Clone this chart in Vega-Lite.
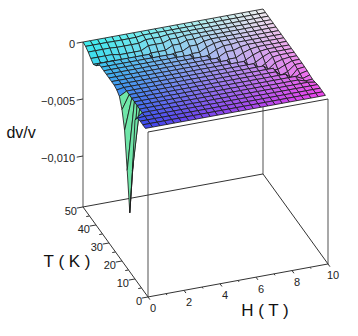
{"$schema":"https://vega.github.io/schema/vega-lite/v6.json","width":358,"height":336,"padding":0,"autosize":{"type":"fit","contains":"padding"},"background":"white","view":{"stroke":null},
"datasets":{
"edges":[{"id":"a","n":0,"H":0,"T":50,"v":0},{"id":"a","n":1,"H":0,"T":50,"v":-0.01447},{"id":"b","n":0,"H":0,"T":0,"v":0},{"id":"b","n":1,"H":0,"T":0,"v":-0.01447},{"id":"c","n":0,"H":10,"T":50,"v":0},{"id":"c","n":1,"H":10,"T":50,"v":-0.01447},{"id":"d","n":0,"H":10,"T":0,"v":0},{"id":"d","n":1,"H":10,"T":0,"v":-0.01447}],
"frame":[{"id":"f1","n":0,"H":0,"T":0,"v":-0.01447},{"id":"f1","n":1,"H":10,"T":0,"v":-0.01447},{"id":"f2","n":0,"H":0,"T":0,"v":-0.01447},{"id":"f2","n":1,"H":0,"T":50,"v":-0.01447},{"id":"f3","n":0,"H":0,"T":50,"v":-0.01447},{"id":"f3","n":1,"H":10,"T":50,"v":-0.01447},{"id":"f4","n":0,"H":10,"T":0,"v":-0.01447},{"id":"f4","n":1,"H":10,"T":50,"v":-0.01447},{"id":"f5","n":0,"H":0,"T":0,"v":0},{"id":"f5","n":1,"H":10,"T":0,"v":0},
{"id":"h0","n":0,"H":0,"T":0,"v":-0.01447},{"id":"h0","n":1,"H":0,"T":-1.5,"v":-0.01447},{"id":"h1","n":0,"H":1,"T":0,"v":-0.01447},{"id":"h1","n":1,"H":1,"T":-0.8,"v":-0.01447},{"id":"h2","n":0,"H":2,"T":0,"v":-0.01447},{"id":"h2","n":1,"H":2,"T":-1.5,"v":-0.01447},{"id":"h3","n":0,"H":3,"T":0,"v":-0.01447},{"id":"h3","n":1,"H":3,"T":-0.8,"v":-0.01447},{"id":"h4","n":0,"H":4,"T":0,"v":-0.01447},{"id":"h4","n":1,"H":4,"T":-1.5,"v":-0.01447},{"id":"h5","n":0,"H":5,"T":0,"v":-0.01447},{"id":"h5","n":1,"H":5,"T":-0.8,"v":-0.01447},{"id":"h6","n":0,"H":6,"T":0,"v":-0.01447},{"id":"h6","n":1,"H":6,"T":-1.5,"v":-0.01447},{"id":"h7","n":0,"H":7,"T":0,"v":-0.01447},{"id":"h7","n":1,"H":7,"T":-0.8,"v":-0.01447},{"id":"h8","n":0,"H":8,"T":0,"v":-0.01447},{"id":"h8","n":1,"H":8,"T":-1.5,"v":-0.01447},{"id":"h9","n":0,"H":9,"T":0,"v":-0.01447},{"id":"h9","n":1,"H":9,"T":-0.8,"v":-0.01447},{"id":"h10","n":0,"H":10,"T":0,"v":-0.01447},{"id":"h10","n":1,"H":10,"T":-1.5,"v":-0.01447},
{"id":"t0","n":0,"H":0,"T":0,"v":-0.01447},{"id":"t0","n":1,"H":-0.35,"T":0,"v":-0.01447},{"id":"t5","n":0,"H":0,"T":5,"v":-0.01447},{"id":"t5","n":1,"H":-0.18,"T":5,"v":-0.01447},{"id":"t10","n":0,"H":0,"T":10,"v":-0.01447},{"id":"t10","n":1,"H":-0.35,"T":10,"v":-0.01447},{"id":"t15","n":0,"H":0,"T":15,"v":-0.01447},{"id":"t15","n":1,"H":-0.18,"T":15,"v":-0.01447},{"id":"t20","n":0,"H":0,"T":20,"v":-0.01447},{"id":"t20","n":1,"H":-0.35,"T":20,"v":-0.01447},{"id":"t25","n":0,"H":0,"T":25,"v":-0.01447},{"id":"t25","n":1,"H":-0.18,"T":25,"v":-0.01447},{"id":"t30","n":0,"H":0,"T":30,"v":-0.01447},{"id":"t30","n":1,"H":-0.35,"T":30,"v":-0.01447},{"id":"t35","n":0,"H":0,"T":35,"v":-0.01447},{"id":"t35","n":1,"H":-0.18,"T":35,"v":-0.01447},{"id":"t40","n":0,"H":0,"T":40,"v":-0.01447},{"id":"t40","n":1,"H":-0.35,"T":40,"v":-0.01447},{"id":"t45","n":0,"H":0,"T":45,"v":-0.01447},{"id":"t45","n":1,"H":-0.18,"T":45,"v":-0.01447},{"id":"t50","n":0,"H":0,"T":50,"v":-0.01447},{"id":"t50","n":1,"H":-0.35,"T":50,"v":-0.01447},
{"id":"z0","n":0,"H":0,"T":50,"v":0},{"id":"z0","n":1,"H":-0.35,"T":50,"v":0},{"id":"z5","n":0,"H":0,"T":50,"v":-0.005},{"id":"z5","n":1,"H":-0.35,"T":50,"v":-0.005},{"id":"z10","n":0,"H":0,"T":50,"v":-0.01},{"id":"z10","n":1,"H":-0.35,"T":50,"v":-0.01}],
"zlab":[{"H":0,"T":50,"v":0,"t":"0"},{"H":0,"T":50,"v":-0.005,"t":"−0,005"},{"H":0,"T":50,"v":-0.01,"t":"−0,010"}],
"tlab":[{"H":0,"T":0,"v":-0.01447,"t":"0"},{"H":0,"T":10,"v":-0.01447,"t":"10"},{"H":0,"T":20,"v":-0.01447,"t":"20"},{"H":0,"T":30,"v":-0.01447,"t":"30"},{"H":0,"T":40,"v":-0.01447,"t":"40"},{"H":0,"T":50,"v":-0.01447,"t":"50"}],
"hlab":[{"H":0,"T":0,"v":-0.01447,"t":"0"},{"H":2,"T":0,"v":-0.01447,"t":"2"},{"H":4,"T":0,"v":-0.01447,"t":"4"},{"H":6,"T":0,"v":-0.01447,"t":"6"},{"H":8,"T":0,"v":-0.01447,"t":"8"},{"H":10,"T":0,"v":-0.01447,"t":"10"}],
"titles":[{"H":5.24,"T":-17.4,"v":-0.01447,"t":"H ( T )"},{"H":-2.73,"T":24.45,"v":-0.01447,"t":"T ( K )"}],
"ztitle":[{"H":-3.44,"T":50,"v":-0.00699,"t":"dv/v"}],
"grid":[
{"H":10,"T":50,"v":0},{"H":9.6,"T":50,"v":0},{"H":9.2,"T":50,"v":0},{"H":8.8,"T":50,"v":0},{"H":8.4,"T":50,"v":0},{"H":8,"T":50,"v":0},{"H":7.6,"T":50,"v":0},{"H":7.2,"T":50,"v":0},{"H":6.8,"T":50,"v":0},{"H":6.4,"T":50,"v":0},{"H":6,"T":50,"v":0},{"H":5.6,"T":50,"v":0},{"H":5.2,"T":50,"v":0},{"H":4.8,"T":50,"v":0},{"H":4.4,"T":50,"v":0},{"H":4,"T":50,"v":0},{"H":3.6,"T":50,"v":0},{"H":3.2,"T":50,"v":0},{"H":2.8,"T":50,"v":0},{"H":2.4,"T":50,"v":0},{"H":2,"T":50,"v":0},{"H":1.6,"T":50,"v":0},{"H":1.2,"T":50,"v":0},{"H":0.8,"T":50,"v":0},{"H":0.4,"T":50,"v":0},{"H":0,"T":50,"v":0},
{"H":10,"T":48,"v":0},{"H":9.6,"T":48,"v":0},{"H":9.2,"T":48,"v":0},{"H":8.8,"T":48,"v":0},{"H":8.4,"T":48,"v":0},{"H":8,"T":48,"v":0},{"H":7.6,"T":48,"v":0},{"H":7.2,"T":48,"v":0},{"H":6.8,"T":48,"v":0},{"H":6.4,"T":48,"v":0},{"H":6,"T":48,"v":0},{"H":5.6,"T":48,"v":0},{"H":5.2,"T":48,"v":0},{"H":4.8,"T":48,"v":0},{"H":4.4,"T":48,"v":0},{"H":4,"T":48,"v":0},{"H":3.6,"T":48,"v":0},{"H":3.2,"T":48,"v":0},{"H":2.8,"T":48,"v":-0.00009},{"H":2.4,"T":48,"v":-0.00009},{"H":2,"T":48,"v":-0.00009},{"H":1.6,"T":48,"v":-0.00009},{"H":1.2,"T":48,"v":-0.00007},{"H":0.8,"T":48,"v":-0.00007},{"H":0.4,"T":48,"v":-0.00007},{"H":0,"T":48,"v":-0.00007},
{"H":10,"T":46,"v":0},{"H":9.6,"T":46,"v":0},{"H":9.2,"T":46,"v":0},{"H":8.8,"T":46,"v":0},{"H":8.4,"T":46,"v":0},{"H":8,"T":46,"v":0},{"H":7.6,"T":46,"v":0},{"H":7.2,"T":46,"v":0},{"H":6.8,"T":46,"v":0},{"H":6.4,"T":46,"v":0},{"H":6,"T":46,"v":0},{"H":5.6,"T":46,"v":0},{"H":5.2,"T":46,"v":0},{"H":4.8,"T":46,"v":0},{"H":4.4,"T":46,"v":0},{"H":4,"T":46,"v":-0.00009},{"H":3.6,"T":46,"v":-0.00009},{"H":3.2,"T":46,"v":-0.00009},{"H":2.8,"T":46,"v":-0.0003},{"H":2.4,"T":46,"v":-0.0003},{"H":2,"T":46,"v":-0.0003},{"H":1.6,"T":46,"v":-0.0003},{"H":1.2,"T":46,"v":-0.00025},{"H":0.8,"T":46,"v":-0.00025},{"H":0.4,"T":46,"v":-0.00025},{"H":0,"T":46,"v":-0.00025},
{"H":10,"T":44,"v":0},{"H":9.6,"T":44,"v":0},{"H":9.2,"T":44,"v":0},{"H":8.8,"T":44,"v":0},{"H":8.4,"T":44,"v":0},{"H":8,"T":44,"v":0},{"H":7.6,"T":44,"v":0},{"H":7.2,"T":44,"v":0},{"H":6.8,"T":44,"v":0},{"H":6.4,"T":44,"v":0},{"H":6,"T":44,"v":0},{"H":5.6,"T":44,"v":0},{"H":5.2,"T":44,"v":0},{"H":4.8,"T":44,"v":-0.00009},{"H":4.4,"T":44,"v":-0.00009},{"H":4,"T":44,"v":-0.0003},{"H":3.6,"T":44,"v":-0.0003},{"H":3.2,"T":44,"v":-0.0003},{"H":2.8,"T":44,"v":-0.00063},{"H":2.4,"T":44,"v":-0.00063},{"H":2,"T":44,"v":-0.00063},{"H":1.6,"T":44,"v":-0.00063},{"H":1.2,"T":44,"v":-0.0005},{"H":0.8,"T":44,"v":-0.0005},{"H":0.4,"T":44,"v":-0.0005},{"H":0,"T":44,"v":-0.0005},
{"H":10,"T":42,"v":0},{"H":9.6,"T":42,"v":0},{"H":9.2,"T":42,"v":0},{"H":8.8,"T":42,"v":0},{"H":8.4,"T":42,"v":0},{"H":8,"T":42,"v":0},{"H":7.6,"T":42,"v":0},{"H":7.2,"T":42,"v":0},{"H":6.8,"T":42,"v":0},{"H":6.4,"T":42,"v":0},{"H":6,"T":42,"v":0},{"H":5.6,"T":42,"v":-0.00009},{"H":5.2,"T":42,"v":-0.00009},{"H":4.8,"T":42,"v":-0.0003},{"H":4.4,"T":42,"v":-0.0003},{"H":4,"T":42,"v":-0.00063},{"H":3.6,"T":42,"v":-0.00063},{"H":3.2,"T":42,"v":-0.00063},{"H":2.8,"T":42,"v":-0.0009},{"H":2.4,"T":42,"v":-0.0009},{"H":2,"T":42,"v":-0.0009},{"H":1.6,"T":42,"v":-0.0009},{"H":1.2,"T":42,"v":-0.0007},{"H":0.8,"T":42,"v":-0.0007},{"H":0.4,"T":42,"v":-0.0007},{"H":0,"T":42,"v":-0.0007},
{"H":10,"T":40,"v":0},{"H":9.6,"T":40,"v":0},{"H":9.2,"T":40,"v":0},{"H":8.8,"T":40,"v":0},{"H":8.4,"T":40,"v":0},{"H":8,"T":40,"v":0},{"H":7.6,"T":40,"v":0},{"H":7.2,"T":40,"v":0},{"H":6.8,"T":40,"v":0},{"H":6.4,"T":40,"v":0},{"H":6,"T":40,"v":-0.00009},{"H":5.6,"T":40,"v":-0.0003},{"H":5.2,"T":40,"v":-0.0003},{"H":4.8,"T":40,"v":-0.00063},{"H":4.4,"T":40,"v":-0.00063},{"H":4,"T":40,"v":-0.0009},{"H":3.6,"T":40,"v":-0.0009},{"H":3.2,"T":40,"v":-0.0009},{"H":2.8,"T":40,"v":-0.00063},{"H":2.4,"T":40,"v":-0.00063},{"H":2,"T":40,"v":-0.00063},{"H":1.6,"T":40,"v":-0.00063},{"H":1.2,"T":40,"v":-0.0005},{"H":0.8,"T":40,"v":-0.0005},{"H":0.4,"T":40,"v":-0.0005},{"H":0,"T":40,"v":-0.0005},
{"H":10,"T":38,"v":0},{"H":9.6,"T":38,"v":0},{"H":9.2,"T":38,"v":0},{"H":8.8,"T":38,"v":0},{"H":8.4,"T":38,"v":0},{"H":8,"T":38,"v":0},{"H":7.6,"T":38,"v":0},{"H":7.2,"T":38,"v":0},{"H":6.8,"T":38,"v":0},{"H":6.4,"T":38,"v":-0.00009},{"H":6,"T":38,"v":-0.0003},{"H":5.6,"T":38,"v":-0.00063},{"H":5.2,"T":38,"v":-0.00063},{"H":4.8,"T":38,"v":-0.0009},{"H":4.4,"T":38,"v":-0.0009},{"H":4,"T":38,"v":-0.00063},{"H":3.6,"T":38,"v":-0.00063},{"H":3.2,"T":38,"v":-0.00063},{"H":2.8,"T":38,"v":0},{"H":2.4,"T":38,"v":0},{"H":2,"T":38,"v":0},{"H":1.6,"T":38,"v":0},{"H":1.2,"T":38,"v":0},{"H":0.8,"T":38,"v":0},{"H":0.4,"T":38,"v":0},{"H":0,"T":38,"v":0},
{"H":10,"T":36,"v":0},{"H":9.6,"T":36,"v":0},{"H":9.2,"T":36,"v":0},{"H":8.8,"T":36,"v":0},{"H":8.4,"T":36,"v":0},{"H":8,"T":36,"v":0},{"H":7.6,"T":36,"v":0},{"H":7.2,"T":36,"v":-0.00009},{"H":6.8,"T":36,"v":-0.00009},{"H":6.4,"T":36,"v":-0.0003},{"H":6,"T":36,"v":-0.00063},{"H":5.6,"T":36,"v":-0.0009},{"H":5.2,"T":36,"v":-0.0009},{"H":4.8,"T":36,"v":-0.00063},{"H":4.4,"T":36,"v":-0.00063},{"H":4,"T":36,"v":0},{"H":3.6,"T":36,"v":0},{"H":3.2,"T":36,"v":0},{"H":2.8,"T":36,"v":0},{"H":2.4,"T":36,"v":0},{"H":2,"T":36,"v":0},{"H":1.6,"T":36,"v":0},{"H":1.2,"T":36,"v":0},{"H":0.8,"T":36,"v":0},{"H":0.4,"T":36,"v":0},{"H":0,"T":36,"v":0},
{"H":10,"T":34,"v":0},{"H":9.6,"T":34,"v":0},{"H":9.2,"T":34,"v":0},{"H":8.8,"T":34,"v":0},{"H":8.4,"T":34,"v":0},{"H":8,"T":34,"v":0},{"H":7.6,"T":34,"v":-0.00009},{"H":7.2,"T":34,"v":-0.0003},{"H":6.8,"T":34,"v":-0.0003},{"H":6.4,"T":34,"v":-0.00063},{"H":6,"T":34,"v":-0.0009},{"H":5.6,"T":34,"v":-0.00063},{"H":5.2,"T":34,"v":-0.00063},{"H":4.8,"T":34,"v":0},{"H":4.4,"T":34,"v":0},{"H":4,"T":34,"v":0},{"H":3.6,"T":34,"v":0},{"H":3.2,"T":34,"v":0},{"H":2.8,"T":34,"v":0},{"H":2.4,"T":34,"v":0},{"H":2,"T":34,"v":0},{"H":1.6,"T":34,"v":0},{"H":1.2,"T":34,"v":0},{"H":0.8,"T":34,"v":0},{"H":0.4,"T":34,"v":0},{"H":0,"T":34,"v":0},
{"H":10,"T":32,"v":0},{"H":9.6,"T":32,"v":0},{"H":9.2,"T":32,"v":0},{"H":8.8,"T":32,"v":0},{"H":8.4,"T":32,"v":0},{"H":8,"T":32,"v":-0.00009},{"H":7.6,"T":32,"v":-0.0003},{"H":7.2,"T":32,"v":-0.00063},{"H":6.8,"T":32,"v":-0.00063},{"H":6.4,"T":32,"v":-0.0009},{"H":6,"T":32,"v":-0.00063},{"H":5.6,"T":32,"v":0},{"H":5.2,"T":32,"v":0},{"H":4.8,"T":32,"v":0},{"H":4.4,"T":32,"v":0},{"H":4,"T":32,"v":0},{"H":3.6,"T":32,"v":0},{"H":3.2,"T":32,"v":0},{"H":2.8,"T":32,"v":0},{"H":2.4,"T":32,"v":0},{"H":2,"T":32,"v":0},{"H":1.6,"T":32,"v":0},{"H":1.2,"T":32,"v":0},{"H":0.8,"T":32,"v":0},{"H":0.4,"T":32,"v":0},{"H":0,"T":32,"v":0},
{"H":10,"T":30,"v":0},{"H":9.6,"T":30,"v":0},{"H":9.2,"T":30,"v":0},{"H":8.8,"T":30,"v":0},{"H":8.4,"T":30,"v":-0.00008},{"H":8,"T":30,"v":-0.0003},{"H":7.6,"T":30,"v":-0.00063},{"H":7.2,"T":30,"v":-0.0009},{"H":6.8,"T":30,"v":-0.0009},{"H":6.4,"T":30,"v":-0.00063},{"H":6,"T":30,"v":0},{"H":5.6,"T":30,"v":0},{"H":5.2,"T":30,"v":0},{"H":4.8,"T":30,"v":0},{"H":4.4,"T":30,"v":0},{"H":4,"T":30,"v":0},{"H":3.6,"T":30,"v":0},{"H":3.2,"T":30,"v":0},{"H":2.8,"T":30,"v":0},{"H":2.4,"T":30,"v":0},{"H":2,"T":30,"v":0},{"H":1.6,"T":30,"v":0},{"H":1.2,"T":30,"v":0},{"H":0.8,"T":30,"v":0},{"H":0.4,"T":30,"v":0},{"H":0,"T":30,"v":0},
{"H":10,"T":28,"v":0},{"H":9.6,"T":28,"v":0},{"H":9.2,"T":28,"v":0},{"H":8.8,"T":28,"v":0},{"H":8.4,"T":28,"v":-0.00026},{"H":8,"T":28,"v":-0.00063},{"H":7.6,"T":28,"v":-0.0009},{"H":7.2,"T":28,"v":-0.00063},{"H":6.8,"T":28,"v":-0.00063},{"H":6.4,"T":28,"v":0},{"H":6,"T":28,"v":0},{"H":5.6,"T":28,"v":0},{"H":5.2,"T":28,"v":0},{"H":4.8,"T":28,"v":0},{"H":4.4,"T":28,"v":0},{"H":4,"T":28,"v":0},{"H":3.6,"T":28,"v":0},{"H":3.2,"T":28,"v":0},{"H":2.8,"T":28,"v":0},{"H":2.4,"T":28,"v":0},{"H":2,"T":28,"v":0},{"H":1.6,"T":28,"v":0},{"H":1.2,"T":28,"v":0},{"H":0.8,"T":28,"v":0},{"H":0.4,"T":28,"v":0},{"H":0,"T":28,"v":0},
{"H":10,"T":26,"v":0},{"H":9.6,"T":26,"v":0},{"H":9.2,"T":26,"v":0},{"H":8.8,"T":26,"v":-0.00008},{"H":8.4,"T":26,"v":-0.00053},{"H":8,"T":26,"v":-0.0009},{"H":7.6,"T":26,"v":-0.00063},{"H":7.2,"T":26,"v":0},{"H":6.8,"T":26,"v":0},{"H":6.4,"T":26,"v":0},{"H":6,"T":26,"v":0},{"H":5.6,"T":26,"v":0},{"H":5.2,"T":26,"v":0},{"H":4.8,"T":26,"v":0},{"H":4.4,"T":26,"v":0},{"H":4,"T":26,"v":0},{"H":3.6,"T":26,"v":0},{"H":3.2,"T":26,"v":0},{"H":2.8,"T":26,"v":0},{"H":2.4,"T":26,"v":0},{"H":2,"T":26,"v":0},{"H":1.6,"T":26,"v":0},{"H":1.2,"T":26,"v":0},{"H":0.8,"T":26,"v":0},{"H":0.4,"T":26,"v":0},{"H":0,"T":26,"v":0},
{"H":10,"T":24,"v":0},{"H":9.6,"T":24,"v":0},{"H":9.2,"T":24,"v":-0.00008},{"H":8.8,"T":24,"v":-0.00026},{"H":8.4,"T":24,"v":-0.00075},{"H":8,"T":24,"v":-0.00063},{"H":7.6,"T":24,"v":0},{"H":7.2,"T":24,"v":0},{"H":6.8,"T":24,"v":0},{"H":6.4,"T":24,"v":0},{"H":6,"T":24,"v":0},{"H":5.6,"T":24,"v":0},{"H":5.2,"T":24,"v":0},{"H":4.8,"T":24,"v":0},{"H":4.4,"T":24,"v":0},{"H":4,"T":24,"v":0},{"H":3.6,"T":24,"v":0},{"H":3.2,"T":24,"v":0},{"H":2.8,"T":24,"v":0},{"H":2.4,"T":24,"v":0},{"H":2,"T":24,"v":0},{"H":1.6,"T":24,"v":0},{"H":1.2,"T":24,"v":0},{"H":0.8,"T":24,"v":0},{"H":0.4,"T":24,"v":0},{"H":0,"T":24,"v":-0.0001},
{"H":10,"T":22,"v":0},{"H":9.6,"T":22,"v":0},{"H":9.2,"T":22,"v":-0.00026},{"H":8.8,"T":22,"v":-0.00053},{"H":8.4,"T":22,"v":-0.00053},{"H":8,"T":22,"v":0},{"H":7.6,"T":22,"v":0},{"H":7.2,"T":22,"v":0},{"H":6.8,"T":22,"v":0},{"H":6.4,"T":22,"v":0},{"H":6,"T":22,"v":0},{"H":5.6,"T":22,"v":0},{"H":5.2,"T":22,"v":0},{"H":4.8,"T":22,"v":0},{"H":4.4,"T":22,"v":0},{"H":4,"T":22,"v":0},{"H":3.6,"T":22,"v":0},{"H":3.2,"T":22,"v":0},{"H":2.8,"T":22,"v":0},{"H":2.4,"T":22,"v":0},{"H":2,"T":22,"v":0},{"H":1.6,"T":22,"v":0},{"H":1.2,"T":22,"v":0},{"H":0.8,"T":22,"v":0},{"H":0.4,"T":22,"v":0},{"H":0,"T":22,"v":-0.00035},
{"H":10,"T":20,"v":0},{"H":9.6,"T":20,"v":-0.00003},{"H":9.2,"T":20,"v":-0.00053},{"H":8.8,"T":20,"v":-0.00075},{"H":8.4,"T":20,"v":0},{"H":8,"T":20,"v":0},{"H":7.6,"T":20,"v":0},{"H":7.2,"T":20,"v":0},{"H":6.8,"T":20,"v":0},{"H":6.4,"T":20,"v":0},{"H":6,"T":20,"v":0},{"H":5.6,"T":20,"v":0},{"H":5.2,"T":20,"v":0},{"H":4.8,"T":20,"v":0},{"H":4.4,"T":20,"v":0},{"H":4,"T":20,"v":0},{"H":3.6,"T":20,"v":0},{"H":3.2,"T":20,"v":0},{"H":2.8,"T":20,"v":0},{"H":2.4,"T":20,"v":0},{"H":2,"T":20,"v":0},{"H":1.6,"T":20,"v":0},{"H":1.2,"T":20,"v":0},{"H":0.8,"T":20,"v":0},{"H":0.4,"T":20,"v":0},{"H":0,"T":20,"v":-0.0012},
{"H":10,"T":18,"v":-0.00002},{"H":9.6,"T":18,"v":-0.0001},{"H":9.2,"T":18,"v":-0.00075},{"H":8.8,"T":18,"v":-0.00053},{"H":8.4,"T":18,"v":0},{"H":8,"T":18,"v":0},{"H":7.6,"T":18,"v":0},{"H":7.2,"T":18,"v":0},{"H":6.8,"T":18,"v":0},{"H":6.4,"T":18,"v":0},{"H":6,"T":18,"v":0},{"H":5.6,"T":18,"v":0},{"H":5.2,"T":18,"v":0},{"H":4.8,"T":18,"v":0},{"H":4.4,"T":18,"v":0},{"H":4,"T":18,"v":0},{"H":3.6,"T":18,"v":0},{"H":3.2,"T":18,"v":0},{"H":2.8,"T":18,"v":0},{"H":2.4,"T":18,"v":0},{"H":2,"T":18,"v":0},{"H":1.6,"T":18,"v":0},{"H":1.2,"T":18,"v":0},{"H":0.8,"T":18,"v":0},{"H":0.4,"T":18,"v":0},{"H":0,"T":18,"v":-0.0027},
{"H":10,"T":16,"v":-0.00005},{"H":9.6,"T":16,"v":-0.0002},{"H":9.2,"T":16,"v":-0.00053},{"H":8.8,"T":16,"v":0},{"H":8.4,"T":16,"v":0},{"H":8,"T":16,"v":0},{"H":7.6,"T":16,"v":0},{"H":7.2,"T":16,"v":0},{"H":6.8,"T":16,"v":0},{"H":6.4,"T":16,"v":0},{"H":6,"T":16,"v":0},{"H":5.6,"T":16,"v":0},{"H":5.2,"T":16,"v":0},{"H":4.8,"T":16,"v":0},{"H":4.4,"T":16,"v":0},{"H":4,"T":16,"v":0},{"H":3.6,"T":16,"v":0},{"H":3.2,"T":16,"v":0},{"H":2.8,"T":16,"v":0},{"H":2.4,"T":16,"v":0},{"H":2,"T":16,"v":0},{"H":1.6,"T":16,"v":0},{"H":1.2,"T":16,"v":0},{"H":0.8,"T":16,"v":0},{"H":0.4,"T":16,"v":0},{"H":0,"T":16,"v":-0.0059},
{"H":10,"T":14,"v":-0.0001},{"H":9.6,"T":14,"v":-0.0003},{"H":9.2,"T":14,"v":0},{"H":8.8,"T":14,"v":0},{"H":8.4,"T":14,"v":0},{"H":8,"T":14,"v":0},{"H":7.6,"T":14,"v":0},{"H":7.2,"T":14,"v":0},{"H":6.8,"T":14,"v":0},{"H":6.4,"T":14,"v":0},{"H":6,"T":14,"v":0},{"H":5.6,"T":14,"v":0},{"H":5.2,"T":14,"v":0},{"H":4.8,"T":14,"v":0},{"H":4.4,"T":14,"v":0},{"H":4,"T":14,"v":0},{"H":3.6,"T":14,"v":0},{"H":3.2,"T":14,"v":0},{"H":2.8,"T":14,"v":0},{"H":2.4,"T":14,"v":0},{"H":2,"T":14,"v":0},{"H":1.6,"T":14,"v":0},{"H":1.2,"T":14,"v":0},{"H":0.8,"T":14,"v":0},{"H":0.4,"T":14,"v":0},{"H":0,"T":14,"v":-0.0093},
{"H":10,"T":12,"v":-0.00015},{"H":9.6,"T":12,"v":-0.0002},{"H":9.2,"T":12,"v":0},{"H":8.8,"T":12,"v":0},{"H":8.4,"T":12,"v":0},{"H":8,"T":12,"v":0},{"H":7.6,"T":12,"v":0},{"H":7.2,"T":12,"v":0},{"H":6.8,"T":12,"v":0},{"H":6.4,"T":12,"v":0},{"H":6,"T":12,"v":0},{"H":5.6,"T":12,"v":0},{"H":5.2,"T":12,"v":0},{"H":4.8,"T":12,"v":0},{"H":4.4,"T":12,"v":0},{"H":4,"T":12,"v":0},{"H":3.6,"T":12,"v":0},{"H":3.2,"T":12,"v":0},{"H":2.8,"T":12,"v":0},{"H":2.4,"T":12,"v":0},{"H":2,"T":12,"v":0},{"H":1.6,"T":12,"v":0},{"H":1.2,"T":12,"v":0},{"H":0.8,"T":12,"v":0},{"H":0.4,"T":12,"v":0},{"H":0,"T":12,"v":-0.0053},
{"H":10,"T":10,"v":-0.0001},{"H":9.6,"T":10,"v":0},{"H":9.2,"T":10,"v":0},{"H":8.8,"T":10,"v":0},{"H":8.4,"T":10,"v":0},{"H":8,"T":10,"v":0},{"H":7.6,"T":10,"v":0},{"H":7.2,"T":10,"v":0},{"H":6.8,"T":10,"v":0},{"H":6.4,"T":10,"v":0},{"H":6,"T":10,"v":0},{"H":5.6,"T":10,"v":0},{"H":5.2,"T":10,"v":0},{"H":4.8,"T":10,"v":0},{"H":4.4,"T":10,"v":0},{"H":4,"T":10,"v":0},{"H":3.6,"T":10,"v":0},{"H":3.2,"T":10,"v":0},{"H":2.8,"T":10,"v":0},{"H":2.4,"T":10,"v":0},{"H":2,"T":10,"v":0},{"H":1.6,"T":10,"v":0},{"H":1.2,"T":10,"v":0},{"H":0.8,"T":10,"v":0},{"H":0.4,"T":10,"v":0},{"H":0,"T":10,"v":-0.0005},
{"H":10,"T":8,"v":0},{"H":9.6,"T":8,"v":0},{"H":9.2,"T":8,"v":0},{"H":8.8,"T":8,"v":0},{"H":8.4,"T":8,"v":0},{"H":8,"T":8,"v":0},{"H":7.6,"T":8,"v":0},{"H":7.2,"T":8,"v":0},{"H":6.8,"T":8,"v":0},{"H":6.4,"T":8,"v":0},{"H":6,"T":8,"v":0},{"H":5.6,"T":8,"v":0},{"H":5.2,"T":8,"v":0},{"H":4.8,"T":8,"v":0},{"H":4.4,"T":8,"v":0},{"H":4,"T":8,"v":0},{"H":3.6,"T":8,"v":0},{"H":3.2,"T":8,"v":0},{"H":2.8,"T":8,"v":0},{"H":2.4,"T":8,"v":0},{"H":2,"T":8,"v":0},{"H":1.6,"T":8,"v":0},{"H":1.2,"T":8,"v":0},{"H":0.8,"T":8,"v":0},{"H":0.4,"T":8,"v":0},{"H":0,"T":8,"v":-0.00005},
{"H":10,"T":6,"v":0},{"H":9.6,"T":6,"v":0},{"H":9.2,"T":6,"v":0},{"H":8.8,"T":6,"v":0},{"H":8.4,"T":6,"v":0},{"H":8,"T":6,"v":0},{"H":7.6,"T":6,"v":0},{"H":7.2,"T":6,"v":0},{"H":6.8,"T":6,"v":0},{"H":6.4,"T":6,"v":0},{"H":6,"T":6,"v":0},{"H":5.6,"T":6,"v":0},{"H":5.2,"T":6,"v":0},{"H":4.8,"T":6,"v":0},{"H":4.4,"T":6,"v":0},{"H":4,"T":6,"v":0},{"H":3.6,"T":6,"v":0},{"H":3.2,"T":6,"v":0},{"H":2.8,"T":6,"v":0},{"H":2.4,"T":6,"v":0},{"H":2,"T":6,"v":0},{"H":1.6,"T":6,"v":0},{"H":1.2,"T":6,"v":0},{"H":0.8,"T":6,"v":0},{"H":0.4,"T":6,"v":0},{"H":0,"T":6,"v":0},
{"H":10,"T":4,"v":0},{"H":9.6,"T":4,"v":0},{"H":9.2,"T":4,"v":0},{"H":8.8,"T":4,"v":0},{"H":8.4,"T":4,"v":0},{"H":8,"T":4,"v":0},{"H":7.6,"T":4,"v":0},{"H":7.2,"T":4,"v":0},{"H":6.8,"T":4,"v":0},{"H":6.4,"T":4,"v":0},{"H":6,"T":4,"v":0},{"H":5.6,"T":4,"v":0},{"H":5.2,"T":4,"v":0},{"H":4.8,"T":4,"v":0},{"H":4.4,"T":4,"v":0},{"H":4,"T":4,"v":0},{"H":3.6,"T":4,"v":0},{"H":3.2,"T":4,"v":0},{"H":2.8,"T":4,"v":0},{"H":2.4,"T":4,"v":0},{"H":2,"T":4,"v":0},{"H":1.6,"T":4,"v":0},{"H":1.2,"T":4,"v":0},{"H":0.8,"T":4,"v":0},{"H":0.4,"T":4,"v":0},{"H":0,"T":4,"v":0},
{"H":10,"T":2,"v":0},{"H":9.6,"T":2,"v":0},{"H":9.2,"T":2,"v":0},{"H":8.8,"T":2,"v":0},{"H":8.4,"T":2,"v":0},{"H":8,"T":2,"v":0},{"H":7.6,"T":2,"v":0},{"H":7.2,"T":2,"v":0},{"H":6.8,"T":2,"v":0},{"H":6.4,"T":2,"v":0},{"H":6,"T":2,"v":0},{"H":5.6,"T":2,"v":0},{"H":5.2,"T":2,"v":0},{"H":4.8,"T":2,"v":0},{"H":4.4,"T":2,"v":0},{"H":4,"T":2,"v":0},{"H":3.6,"T":2,"v":0},{"H":3.2,"T":2,"v":0},{"H":2.8,"T":2,"v":0},{"H":2.4,"T":2,"v":0},{"H":2,"T":2,"v":0},{"H":1.6,"T":2,"v":0},{"H":1.2,"T":2,"v":0},{"H":0.8,"T":2,"v":0},{"H":0.4,"T":2,"v":0},{"H":0,"T":2,"v":0}
]},
"encoding":{"x":{"field":"px","type":"quantitative","scale":{"domain":[0,358]},"axis":null},"y":{"field":"py","type":"quantitative","scale":{"domain":[336,0]},"axis":null}},
"layer":[
{"data":{"name":"edges"},"transform":[{"calculate":"148+18*datum.H-1.3*datum.T","as":"px"},{"calculate":"132-3.3*datum.H-1.8*datum.T-11400*datum.v","as":"py"}],"mark":{"type":"line","stroke":"#6e6e6e","strokeWidth":1.2},"encoding":{"detail":{"field":"id"},"order":{"field":"n"}}},
{"data":{"name":"frame"},"transform":[{"calculate":"148+18*datum.H-1.3*datum.T","as":"px"},{"calculate":"132-3.3*datum.H-1.8*datum.T-11400*datum.v","as":"py"}],"mark":{"type":"line","stroke":"#333333","strokeWidth":1},"encoding":{"detail":{"field":"id"},"order":{"field":"n"}}},
{"data":{"name":"grid"},"transform":[
{"window":[{"op":"lead","field":"v","as":"v10"}],"groupby":["T"],"sort":[{"field":"H","order":"ascending"}]},
{"window":[{"op":"lead","field":"v","as":"v01"},{"op":"lead","field":"v10","as":"v11"}],"groupby":["H"],"sort":[{"field":"T","order":"ascending"}]},
{"filter":"datum.H<10 && datum.T<50"},
{"calculate":"datum.v","as":"v0"},
{"calculate":"'c'+datum.H+'_'+datum.T","as":"cell"},
{"calculate":"(datum.H==0 && datum.T>=10 && datum.T<22) ? '#6fe6a8' : 'rgb('+round(60+18*(datum.H+0.2))+','+round(60+3.6*(datum.T+1))+',238)'","as":"col"},
{"fold":["v0","v10","v11","v01","v"],"as":["corner","cv"]},
{"calculate":"indexof(['v0','v10','v11','v01','v'],datum.corner)","as":"n"},
{"calculate":"datum.H+((datum.corner=='v10'||datum.corner=='v11')?0.4:0)","as":"cH"},
{"calculate":"datum.T+((datum.corner=='v01'||datum.corner=='v11')?2:0)","as":"cT"},
{"calculate":"148+18*datum.cH-1.3*datum.cT","as":"px"},
{"calculate":"132-3.3*datum.cH-1.8*datum.cT-11400*datum.cv","as":"py"}],
"mark":{"type":"line","stroke":"#1c1c1c","strokeWidth":0.85},"encoding":{"detail":{"field":"cell"},"order":{"field":"n"},"fill":{"field":"col","type":"nominal","scale":null,"legend":null}}},
{"data":{"name":"zlab"},"transform":[{"calculate":"148+18*datum.H-1.3*datum.T","as":"px"},{"calculate":"132-3.3*datum.H-1.8*datum.T-11400*datum.v","as":"py"}],"mark":{"type":"text","align":"right","baseline":"middle","dx":-8,"dy":3,"font":"Liberation Sans","fontSize":11,"fill":"#222222"},"encoding":{"text":{"field":"t"}}},
{"data":{"name":"tlab"},"transform":[{"calculate":"148+18*datum.H-1.3*datum.T","as":"px"},{"calculate":"132-3.3*datum.H-1.8*datum.T-11400*datum.v","as":"py"}],"mark":{"type":"text","align":"right","baseline":"middle","dx":-6,"dy":5,"font":"Liberation Sans","fontSize":11,"fill":"#222222"},"encoding":{"text":{"field":"t"}}},
{"data":{"name":"hlab"},"transform":[{"calculate":"148+18*datum.H-1.3*datum.T","as":"px"},{"calculate":"132-3.3*datum.H-1.8*datum.T-11400*datum.v","as":"py"}],"mark":{"type":"text","align":"center","baseline":"middle","dx":5,"dy":12.5,"font":"Liberation Sans","fontSize":11,"fill":"#222222"},"encoding":{"text":{"field":"t"}}},
{"data":{"name":"titles"},"transform":[{"calculate":"148+18*datum.H-1.3*datum.T","as":"px"},{"calculate":"132-3.3*datum.H-1.8*datum.T-11400*datum.v","as":"py"}],"mark":{"type":"text","align":"center","baseline":"middle","font":"Liberation Sans","fontSize":17,"fill":"#111111"},"encoding":{"text":{"field":"t"}}},
{"data":{"name":"ztitle"},"transform":[{"calculate":"148+18*datum.H-1.3*datum.T","as":"px"},{"calculate":"132-3.3*datum.H-1.8*datum.T-11400*datum.v","as":"py"}],"mark":{"type":"text","align":"center","baseline":"middle","font":"Liberation Sans","fontSize":16,"fill":"#111111"},"encoding":{"text":{"field":"t"}}}
]}
